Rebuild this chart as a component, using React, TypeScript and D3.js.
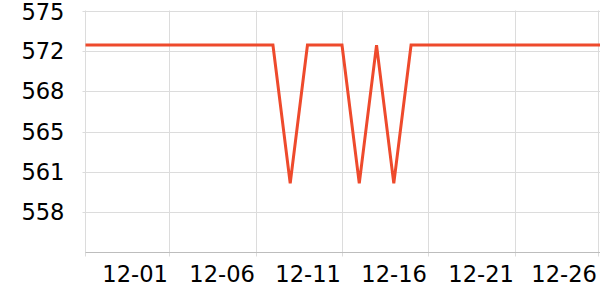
import React from "react";
import * as d3 from "d3";

const dates: string[] = [
  "2023-11-26", "2023-11-27", "2023-11-28", "2023-11-29", "2023-11-30",
  "2023-12-01", "2023-12-02", "2023-12-03", "2023-12-04", "2023-12-05",
  "2023-12-06", "2023-12-07", "2023-12-08", "2023-12-09", "2023-12-10",
  "2023-12-11", "2023-12-12", "2023-12-13", "2023-12-14", "2023-12-15",
  "2023-12-16", "2023-12-17", "2023-12-18", "2023-12-19", "2023-12-20",
  "2023-12-21", "2023-12-22", "2023-12-23", "2023-12-24", "2023-12-25",
  "2023-12-26",
];
const values: number[] = [
  572, 572, 572, 572, 572,
  572, 572, 572, 572, 572,
  572, 572, 560, 572, 572,
  572, 560, 572, 560, 572,
  572, 572, 572, 572, 572,
  572, 572, 572, 572, 572,
  572,
];
const xTickDates: string[] = ["2023-12-01", "2023-12-06", "2023-12-11", "2023-12-16", "2023-12-21", "2023-12-26"];
const yTicks: number[] = [554, 557.5, 561, 564.5, 568, 571.5, 575];
const yDomain: [number, number] = [554, 575];

const W = 600;
const H = 300;
const left = 85.5;
const right = 600;
const xStart = 83;
const xEnd = 601;
const top = 10.5;
const bottom = 252.5;

const parse = d3.timeParse("%Y-%m-%d");
const fmt = d3.timeFormat("%m-%d");

export default function App() {
  const pts = dates.map((d, i) => ({ date: parse(d) as Date, v: values[i] }));
  const x = d3
    .scaleTime()
    .domain([parse(dates[0]) as Date, parse(dates[dates.length - 1]) as Date])
    .range([xStart, xEnd]);
  const y = d3.scaleLinear().domain(yDomain).range([bottom, top]);
  const line = d3
    .line<{ date: Date; v: number }>()
    .x((d) => x(d.date))
    .y((d) => y(d.v));
  const xt = xTickDates.map((d) => parse(d) as Date);
  const font = "'DejaVu Sans', sans-serif";
  return (
    <svg
      width={W}
      height={H}
      style={{ position: "absolute", left: 0, top: 0, display: "block", background: "#fff" }}
    >
      <defs>
        <clipPath id="plot">
          <rect x={left} y={0} width={right - left} height={H} />
        </clipPath>
      </defs>
      {yTicks.map((t) => (
        <g key={"y" + t}>
          {t !== yDomain[0] && (
            <line x1={left - 3} x2={right} y1={Math.round(y(t)) + 0.5} y2={Math.round(y(t)) + 0.5} stroke="#dcdcdc" strokeWidth={1} />
          )}
          {t !== yDomain[0] && (
            <text
              x={64.5}
              y={Math.max(y(t), 11.5)}
              textAnchor="end"
              dominantBaseline="central"
              fontFamily={font}
              fontSize={22.6}
              fill="#000"
            >
              {d3.format(".0f")(t)}
            </text>
          )}
        </g>
      ))}
      {xt.map((d, i) => {
        const px = Math.min(Math.round(x(d)) + 0.5, right - 1.5);
        return (
          <g key={"x" + i}>
            <line x1={px} x2={px} y1={top} y2={bottom + 4} stroke="#dcdcdc" strokeWidth={1} />
            <text
              x={px - 1.5}
              y={282}
              textAnchor="end"
              fontFamily={font}
              fontSize={22.6}
              fill="#000"
            >
              {fmt(d)}
            </text>
          </g>
        );
      })}
      <line x1={left} x2={left} y1={top} y2={bottom + 4} stroke="#dcdcdc" strokeWidth={1} />
      <line x1={left} x2={right} y1={bottom} y2={bottom} stroke="#bdbdbd" strokeWidth={1.2} />
      <path
        d={line(pts) ?? ""}
        fill="none"
        stroke="#ee4a2c"
        strokeWidth={3}
        strokeLinejoin="miter"
        clipPath="url(#plot)"
      />
    </svg>
  );
}
